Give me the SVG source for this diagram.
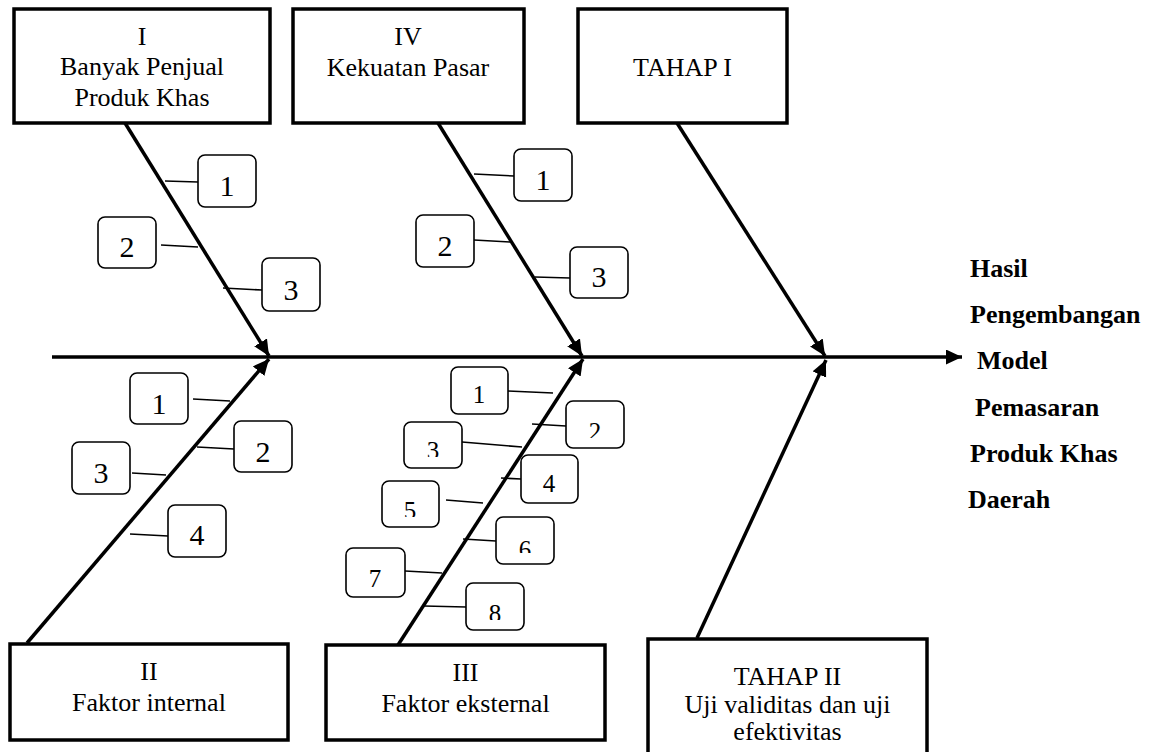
<svg xmlns="http://www.w3.org/2000/svg" width="1151" height="752" viewBox="0 0 1151 752">
<style>
.bx{fill:#fff;stroke:#000;stroke-width:3.5}
.sb{fill:#fff;stroke:#000;stroke-width:1.6}
.bone{stroke:#000;stroke-width:3.5;fill:none}
.br{stroke:#000;stroke-width:1.6}
.t{font-family:'Liberation Serif','DejaVu Serif',serif;font-size:26px;text-anchor:middle;fill:#000}
.d{font-family:'Liberation Serif','DejaVu Serif',serif;font-size:30px;text-anchor:middle;fill:#000}
.d2{font-family:'Liberation Serif','DejaVu Serif',serif;font-size:25px;text-anchor:middle;fill:#000}
.r{font-family:'Liberation Serif','DejaVu Serif',serif;font-size:26px;font-weight:bold;fill:#000}
</style>
<defs>
<marker id="ah" markerUnits="userSpaceOnUse" markerWidth="18" markerHeight="16" refX="16" refY="7.5" orient="auto">
<path d="M0,0 L16,7.5 L0,15 z" fill="#000"/>
</marker>
<clipPath id="c2"><rect x="566" y="401" width="58" height="37"/></clipPath>
<clipPath id="c3"><rect x="404" y="422" width="58" height="35"/></clipPath>
<clipPath id="c5"><rect x="382" y="481" width="57" height="36"/></clipPath>
<clipPath id="c6"><rect x="496" y="517" width="58" height="36"/></clipPath>
<clipPath id="c8"><rect x="466" y="583" width="58" height="37"/></clipPath>
</defs>
<rect width="1151" height="752" fill="#fff"/>

<g id="connectors">
<line class="bone" x1="52" y1="357" x2="962" y2="357" marker-end="url(#ah)"/>
<line class="bone" x1="125" y1="123" x2="269" y2="356" marker-end="url(#ah)"/>
<line class="bone" x1="438" y1="123" x2="582" y2="356" marker-end="url(#ah)"/>
<line class="bone" x1="677" y1="123" x2="825" y2="356" marker-end="url(#ah)"/>
<line class="bone" x1="27" y1="643" x2="269" y2="359" marker-end="url(#ah)"/>
<line class="bone" x1="398" y1="645" x2="583" y2="359" marker-end="url(#ah)"/>
<line class="bone" x1="697" y1="638" x2="826" y2="360" marker-end="url(#ah)"/>
<line class="br" x1="165" y1="181" x2="198" y2="182"/>
<line class="br" x1="161" y1="245" x2="198" y2="247"/>
<line class="br" x1="223" y1="288" x2="262" y2="290"/>
<line class="br" x1="474" y1="174" x2="514" y2="176"/>
<line class="br" x1="474" y1="240" x2="510" y2="242"/>
<line class="br" x1="535" y1="277" x2="570" y2="278"/>
<line class="br" x1="193" y1="399" x2="230" y2="401"/>
<line class="br" x1="197" y1="447" x2="234" y2="449"/>
<line class="br" x1="132" y1="473" x2="166" y2="475"/>
<line class="br" x1="130" y1="534" x2="168" y2="536"/>
<line class="br" x1="508" y1="391" x2="553" y2="393"/>
<line class="br" x1="532" y1="424" x2="566" y2="426"/>
<line class="br" x1="462" y1="442" x2="522" y2="447"/>
<line class="br" x1="501" y1="478" x2="521" y2="479"/>
<line class="br" x1="446" y1="500" x2="483" y2="503"/>
<line class="br" x1="463" y1="539" x2="496" y2="541"/>
<line class="br" x1="405" y1="571" x2="442" y2="573"/>
<line class="br" x1="424" y1="606" x2="466" y2="607"/>
</g>

<g id="box-I"><rect class="bx" x="14" y="9" width="256" height="114"/>
<text class="t" x="142" y="45">I</text><text class="t" x="142" y="75">Banyak Penjual</text><text class="t" x="142" y="106">Produk Khas</text></g>
<g id="box-IV"><rect class="bx" x="293" y="9" width="231" height="114"/>
<text class="t" x="408" y="45">IV</text><text class="t" x="408" y="76">Kekuatan Pasar</text></g>
<g id="box-tahap1"><rect class="bx" x="578" y="9" width="209" height="114"/>
<text class="t" x="682.5" y="76">TAHAP I</text></g>
<g id="box-II"><rect class="bx" x="10" y="644" width="278" height="96"/>
<text class="t" x="149" y="680">II</text><text class="t" x="149" y="711">Faktor internal</text></g>
<g id="box-III"><rect class="bx" x="326" y="645" width="279" height="95"/>
<text class="t" x="465.5" y="681">III</text><text class="t" x="465.5" y="712">Faktor eksternal</text></g>
<g id="box-tahap2"><rect class="bx" x="648" y="639" width="279" height="116"/>
<text class="t" x="787.5" y="685">TAHAP II</text><text class="t" x="787.5" y="713">Uji validitas dan uji</text><text class="t" x="787.5" y="740">efektivitas</text></g>

<g id="I-1"><rect class="sb" x="198" y="155" width="58" height="52" rx="7"/><text class="d" x="227" y="196">1</text></g>
<g id="I-2"><rect class="sb" x="98" y="217" width="58" height="51" rx="7"/><text class="d" x="127" y="257">2</text></g>
<g id="I-3"><rect class="sb" x="262" y="258" width="58" height="53" rx="7"/><text class="d" x="291" y="300">3</text></g>
<g id="IV-1"><rect class="sb" x="514" y="149" width="58" height="52" rx="7"/><text class="d" x="543" y="190">1</text></g>
<g id="IV-2"><rect class="sb" x="416" y="215" width="58" height="52" rx="7"/><text class="d" x="445" y="256">2</text></g>
<g id="IV-3"><rect class="sb" x="570" y="247" width="58" height="51" rx="7"/><text class="d" x="599" y="287">3</text></g>
<g id="II-1"><rect class="sb" x="130" y="373" width="58" height="51" rx="7"/><text class="d" x="159" y="414">1</text></g>
<g id="II-2"><rect class="sb" x="234" y="421" width="58" height="51" rx="7"/><text class="d" x="263" y="462">2</text></g>
<g id="II-3"><rect class="sb" x="72" y="442" width="58" height="52" rx="7"/><text class="d" x="101" y="483">3</text></g>
<g id="II-4"><rect class="sb" x="168" y="505" width="58" height="52" rx="7"/><text class="d" x="197" y="545">4</text></g>
<g id="III-1"><rect class="sb" x="451" y="367" width="57" height="47" rx="7"/><text class="d2" x="479" y="403">1</text></g>
<g id="III-2"><rect class="sb" x="566" y="401" width="58" height="47" rx="7"/><text class="d2" x="595" y="440" clip-path="url(#c2)">2</text></g>
<g id="III-3"><rect class="sb" x="404" y="422" width="58" height="46" rx="7"/><text class="d2" x="433" y="459" clip-path="url(#c3)">3</text></g>
<g id="III-4"><rect class="sb" x="521" y="455" width="57" height="48" rx="7"/><text class="d2" x="549" y="492">4</text></g>
<g id="III-5"><rect class="sb" x="382" y="481" width="57" height="46" rx="7"/><text class="d2" x="410" y="519" clip-path="url(#c5)">5</text></g>
<g id="III-6"><rect class="sb" x="496" y="517" width="58" height="47" rx="7"/><text class="d2" x="525" y="558" clip-path="url(#c6)">6</text></g>
<g id="III-7"><rect class="sb" x="346" y="548" width="59" height="49" rx="7"/><text class="d2" x="375" y="587">7</text></g>
<g id="III-8"><rect class="sb" x="466" y="583" width="58" height="47" rx="7"/><text class="d2" x="495" y="622" clip-path="url(#c8)">8</text></g>

<g id="result">
<text class="r" x="970" y="277">Hasil</text>
<text class="r" x="970" y="323">Pengembangan</text>
<text class="r" x="977" y="369">Model</text>
<text class="r" x="975" y="416">Pemasaran</text>
<text class="r" x="970" y="462">Produk Khas</text>
<text class="r" x="968" y="508">Daerah</text>
</g>
</svg>
